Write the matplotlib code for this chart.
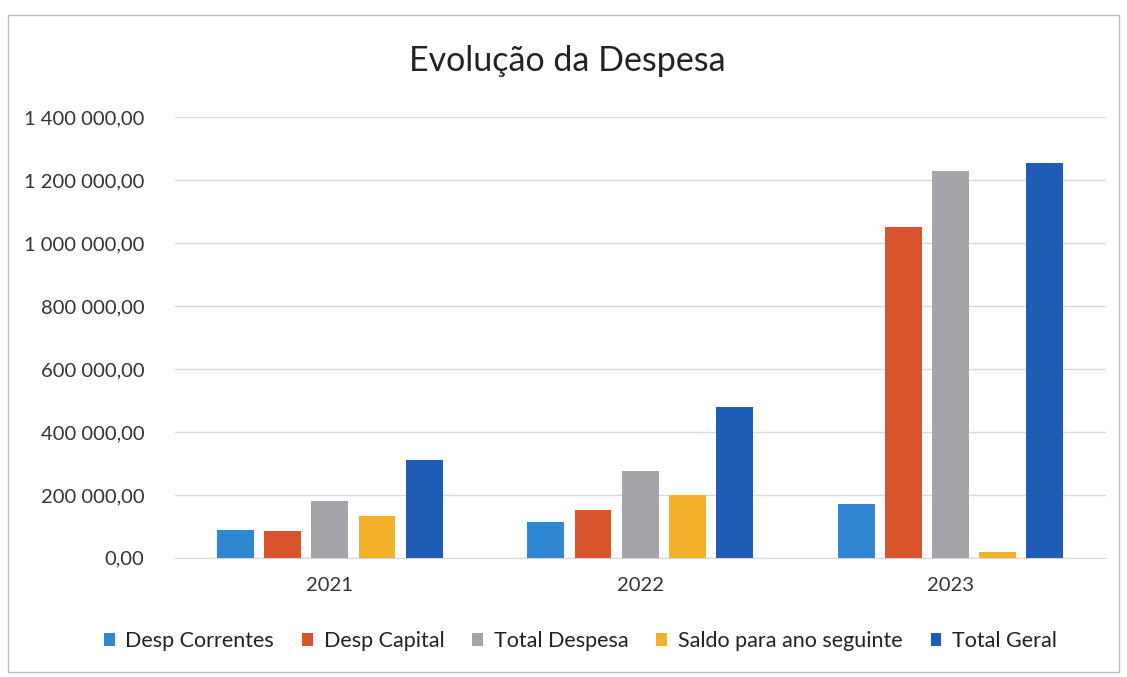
import numpy as np
import matplotlib
matplotlib.use("Agg")
import matplotlib.pyplot as plt
from matplotlib.ticker import FuncFormatter, MultipleLocator
from matplotlib.patches import Rectangle

# data
years = ["2021", "2022", "2023"]
desp_correntes = [90000, 113000, 171000]
desp_capital = [86000, 152000, 1050000]
total_despesa = [179000, 275000, 1228000]
saldo_ano_seguinte = [132000, 201000, 18000]
total_geral = [311000, 478000, 1255000]

series_names = ["Desp Correntes", "Desp Capital", "Total Despesa",
                "Saldo para ano seguinte", "Total Geral"]
series_values = [desp_correntes, desp_capital, total_despesa,
                 saldo_ano_seguinte, total_geral]
colors = ["#2F86D3", "#D8542C", "#A3A5A8", "#F3B12B", "#1E5DB5"]

plt.rcParams["font.family"] = ["Lato", "DejaVu Sans"]


def fmt_pt(v, pos=None):
    s = "{:,.2f}".format(v)
    return s.replace(",", " ").replace(".", ",")


fig = plt.figure(figsize=(11.27, 6.77), dpi=100)
ax = fig.add_axes([0.155, 0.176, 0.826, 0.651])

x = np.arange(len(years))
width = 0.119
pitch = 0.152
for i, (name, vals) in enumerate(zip(series_names, series_values)):
    ax.bar(x + (i - 2) * pitch, vals, width=width, color=colors[i],
           label=name, zorder=3)

ax.set_xlim(-0.5, len(years) - 0.5)
ax.set_ylim(0, 1400000)
ax.yaxis.set_major_locator(MultipleLocator(200000))
ax.yaxis.set_major_formatter(FuncFormatter(fmt_pt))
ax.set_xticks(x)
ax.set_xticklabels(years)
ax.grid(axis="y", color="#D9D9D9", linewidth=1, zorder=0)
for s in ["top", "right", "left"]:
    ax.spines[s].set_visible(False)
ax.spines["bottom"].set_color("#D9D9D9")
ax.tick_params(axis="both", length=0, labelsize=14.5, labelcolor="#333333")
ax.tick_params(axis="y", pad=22)
ax.tick_params(axis="x", pad=14)

fig.text(0.503, 0.91, "Evolução da Despesa", ha="center", va="center",
         fontsize=24.5, color="#222222")

fig.legend(loc="center", bbox_to_anchor=(0.515, 0.053), ncol=5,
           frameon=False, fontsize=15.5, handlelength=0.5, handleheight=0.5,
           handletextpad=0.5, columnspacing=1.3, labelcolor="#222222")

# light frame around the chart area
fig.patches.append(Rectangle((0.007, 0.008), 0.986, 0.97, transform=fig.transFigure,
                             fill=False, edgecolor="#BFBFBF", linewidth=1))

fig.savefig("out.png", dpi=100)
